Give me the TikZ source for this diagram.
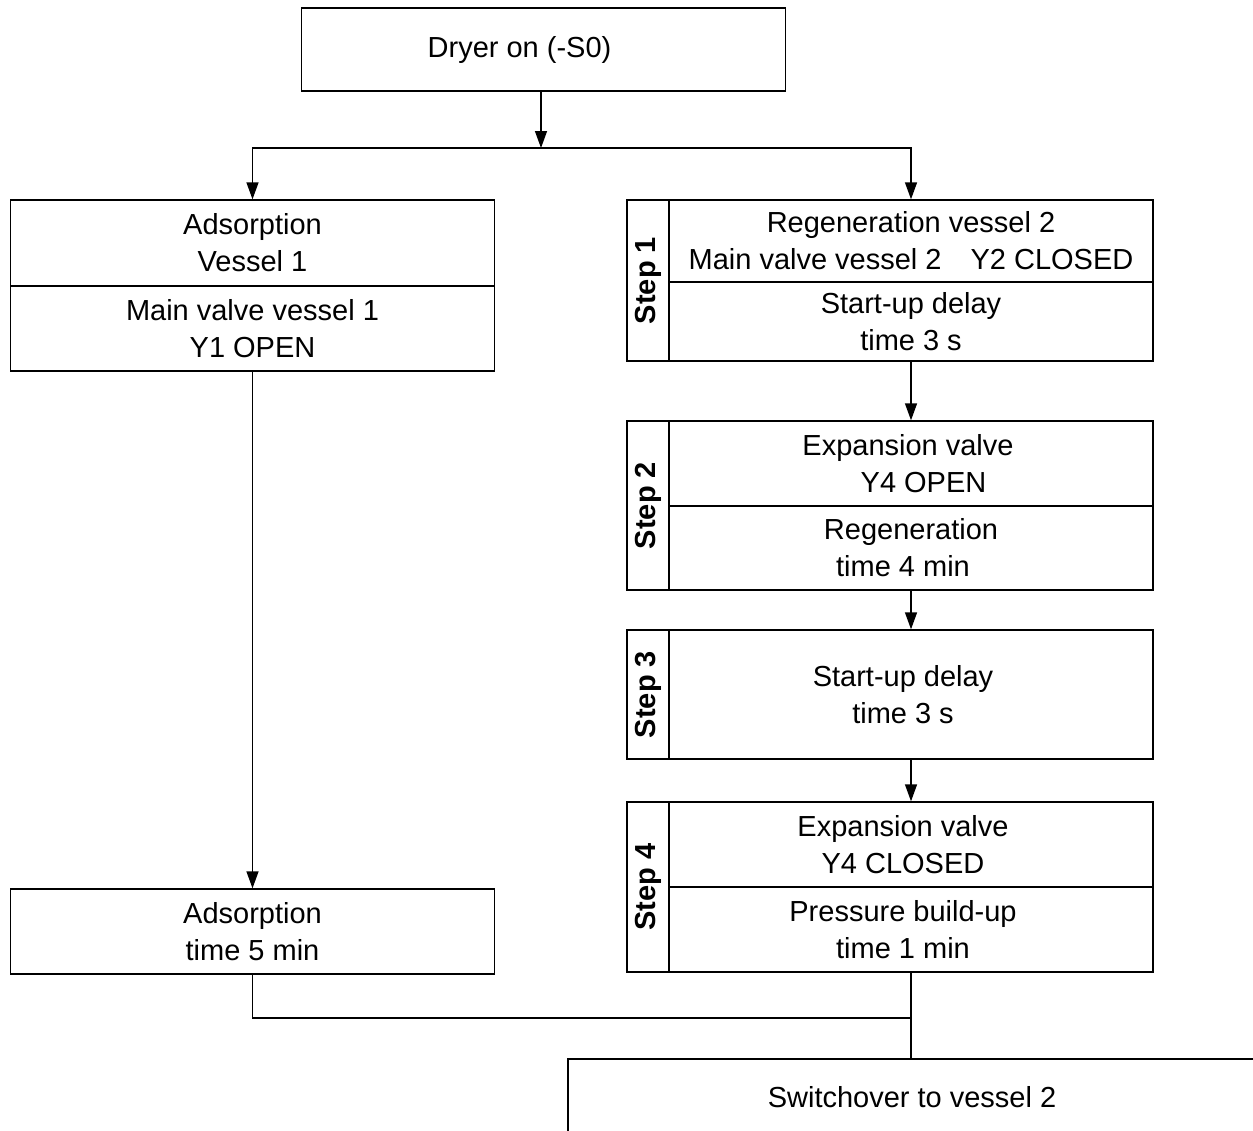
\documentclass[tikz,border=0pt]{standalone}
\usepackage{fontspec}
\setmainfont{Liberation Sans}
\usetikzlibrary{arrows.meta,positioning}
\tikzset{%
        box/.style = { draw, rectangle, line width=0.8pt, align=center, inner sep=0pt,
                       minimum width=9.68cm, font=\fontsize{16.5}{21}\selectfont },
    stepbox/.style = { box, rotate=90, minimum height=0.84cm,
                       font=\fontsize{16.5}{21}\selectfont\bfseries },
       flow/.style = { line width=0.8pt, -{Triangle[length=0.34cm,width=0.24cm]} },
    merging/.style = { line width=0.8pt }
}
% text a little left of the box centre
\newcommand{\padr}{\kern0.32cm}

\begin{document}
\begin{tikzpicture}[x=0.02cm,y=0.02cm,line cap=butt,line join=miter]
\useasboundingbox (0,0) rectangle (1253,-1130);
\clip (0,0) rectangle (1253,-1130);
% start
\node[box, minimum height=1.66cm] (dryer) at (543.5,-49.5) {Dryer on (-S0)\kern0.96cm};
% vessel 1 (adsorption)
\node[box, minimum height=1.72cm] (ads) at (252.5,-243) {Adsorption\\Vessel 1};
\node[box, minimum height=1.70cm] (valve1) at (252.5,-328.5) {Main valve vessel 1\\Y1 OPEN};
\node[box, minimum height=1.70cm] (adstime) at (252.5,-931.5) {Adsorption\\time 5 min};
% vessel 2 (regeneration)
\node[box, minimum height=1.64cm] (s1a) at (911,-241) {Regeneration vessel 2\\Main valve vessel 2\quad Y2 CLOSED};
\node[box, minimum height=1.58cm] (s1b) at (911,-321.5) {Start-up delay\\time 3 s};
\node[stepbox, minimum width=3.22cm] (step1) at (648,-280.5) {Step 1};
\node[box, minimum height=1.70cm] (s2a) at (911,-463.5) {Expansion valve\kern0.12cm\\\kern0.5cm Y4 OPEN};
\node[box, minimum height=1.68cm] (s2b) at (911,-548) {Regeneration\\time 4 min\padr};
\node[stepbox, minimum width=3.38cm] (step2) at (648,-505.5) {Step 2};
\node[box, minimum height=2.58cm] (s3) at (911,-694.5) {Start-up delay\padr\\time 3 s\padr};
\node[stepbox, minimum width=2.58cm] (step3) at (648,-694.5) {Step 3};
\node[box, minimum height=1.70cm] (s4a) at (911,-844.5) {Expansion valve\padr\\Y4 CLOSED\padr};
\node[box, minimum height=1.70cm] (s4b) at (911,-929.5) {Pressure build-up\padr\\time 1 min\padr};
\node[stepbox, minimum width=3.40cm] (step4) at (648,-887) {Step 4};
% end
\node[box, minimum width=13.76cm, minimum height=1.52cm] (switch) at (912,-1097) {Switchover to vessel 2};

\coordinate (split) at (541,-148);
\coordinate (merge) at (911,-1018);
\draw[flow] (dryer.south -| split) -- (split);
\draw[flow] (split) -| (ads.north);
\draw[flow] (split) -| (s1a.north);
\draw[flow] (valve1) -- (adstime);
\draw[flow] (s1b) -- (s2a);
\draw[flow] (s2b) -- (s3);
\draw[flow] (s3) -- (s4a);
\draw[merging] (adstime.south) |- (merge);
\draw[merging] (s4b.south) -- (s4b.south |- switch.north);
\end{tikzpicture}
\end{document}
